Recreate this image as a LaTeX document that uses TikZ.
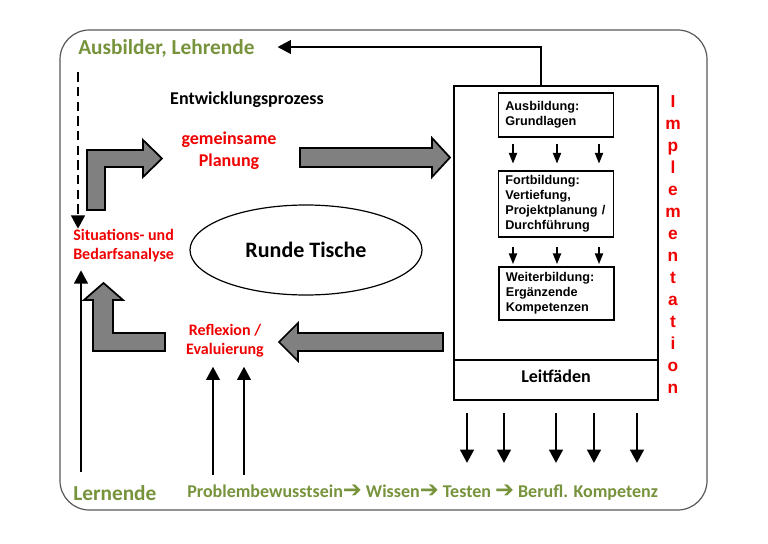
\documentclass[tikz,border=0pt]{standalone}
\usepackage{fontspec}
\setmainfont{Carlito}
\newfontfamily\arialfont{Liberation Sans}
\newfontfamily\symbfont{DejaVu Sans}
\usetikzlibrary{arrows.meta, shapes.geometric, positioning}
\definecolor{leafgreen}{RGB}{119,147,60}
\definecolor{signalred}{RGB}{240,0,0}
\definecolor{blockgray}{RGB}{128,128,128}
\newcommand{\stepto}{{\symbfont\fontsize{17}{17}\selectfont ➔}}

\begin{document}
\begin{tikzpicture}[
    x=0.75pt, y=-0.75pt,
    actor/.style={inner sep=0pt, text=leafgreen, font=\bfseries\fontsize{16}{19}\selectfont},
    phase/.style={inner sep=0pt, text=signalred, align=center, font=\bfseries\fontsize{12}{14.3}\selectfont},
    stage/.style={rectangle, draw, line width=1.1pt, text width=76pt, inner xsep=5pt, align=left, font=\arialfont\bfseries\fontsize{9.5}{11.2}\selectfont},
    blockarrow/.style={fill=blockgray, draw=black, line width=1.3pt, line join=miter},
    arrow/.style={-{Triangle[length=10pt,width=10pt]}, line width=2.2pt},
    small/.style={-{Triangle[length=8pt,width=6pt]}, line width=1.4pt}
]
    \useasboundingbox (0,0) rectangle (768,543);
    \fill[white] (0,0) rectangle (768,543);

    % Frame
    \draw[gray!70!black, line width=0.9pt, rounded corners=22pt] (60,30) rectangle (707,510);

    % Actors
    \node[actor, anchor=west] (ausb) at (78,48) {Ausbilder, Lehrende};
    \node[actor, anchor=west] (lern) at (73,493) {Lernende};

    % Cycle
    \node[inner sep=0pt, font=\bfseries\fontsize{13.5}{16}\selectfont] (entw) at (247,100) {Entwicklungsprozess};
    \node[phase, font=\bfseries\fontsize{13.5}{16.5}\selectfont] (plan) at (229,151) {gemeinsame\\Planung};
    \node[phase, align=left, anchor=west] (situ) at (73,245.5) {Situations- und\\Bedarfsanalyse};
    \node[phase] (refl) at (225,340.5) {Reflexion /\\Evaluierung};
    \node[ellipse, draw, line width=0.9pt, minimum width=174pt, minimum height=67.5pt,
          font=\bfseries\fontsize{16.5}{19}\selectfont] (runde) at (306,250) {Runde Tische};

    % Block arrows
    \draw[blockarrow] (87,210) -- (87,150) -- (143,150) -- (143,140) -- (162,158.5) -- (143,177) -- (143,167) -- (105,167) -- (105,210) -- cycle;
    \draw[blockarrow] (300,148) -- (432,148) -- (432,138) -- (450,157.5) -- (432,177) -- (432,167) -- (300,167) -- cycle;
    \draw[blockarrow] (443,333) -- (298,333) -- (298,323) -- (279,342) -- (298,361) -- (298,351) -- (443,351) -- cycle;
    \draw[blockarrow] (165,333) -- (113,333) -- (113,300) -- (123,300) -- (103.5,283) -- (84,300) -- (93,300) -- (93,351) -- (165,351) -- cycle;

    % Implementation box
    \node[rectangle, draw, line width=1.6pt, minimum width=153pt, minimum height=235.5pt] (frame) at (556,243) {};
    \node[rectangle, draw, line width=1.6pt, minimum width=153pt, minimum height=30pt, text depth=6pt,
          font=\bfseries\fontsize{13.5}{16}\selectfont] (leit) at (556,380) {Leitfäden};
    \node[stage, minimum height=33pt] (ausbil) at (556,115) {Ausbildung:\\Grundlagen};
    \node[stage, minimum height=49.5pt] (fortbil) at (556,204) {Fortbildung:\\Vertiefung,\\Projektplanung /\\Durchführung};
    \node[stage, minimum height=40pt] (weiterbil) at (556.5,293.5) {Weiterbildung:\\Ergänzende\\Kompetenzen};

    \foreach \px in {513,557,599} {
        \draw[small, shorten <=4.5pt, shorten >=5pt] (ausbil.south -| \px,0) -- (fortbil.north -| \px,0);
        \draw[small, shorten <=7pt, shorten >=1.5pt] (fortbil.south -| \px,0) -- (weiterbil.north -| \px,0);
    }
    \foreach \px in {467,504,556,594,637}
        \draw[arrow] (frame.south -| \px,0) ++(0,12) -- ++(0,50);

    \node[inner sep=0pt, text=signalred, align=center, font=\arialfont\bfseries\fontsize{13}{16.5}\selectfont] (impl) at (673,245)
        {I\\m\\p\\l\\e\\m\\e\\n\\t\\a\\t\\i\\o\\n};

    % Return to trainers
    \coordinate (rettop) at (541,47);
    \draw[arrow, line width=2pt, shorten >=17pt] (frame.north -| rettop) -- (rettop) -- (rettop -| ausb.east);
    \draw[arrow, dash pattern=on 7pt off 4pt] (ausb.south -| 78,0) ++(0,15) -- (situ.north -| 78,0);

    % Learners
    \draw[arrow, shorten <=10pt, shorten >=6pt] (lern.north -| 81,0) -- (situ.south -| 81,0);
    \foreach \px in {213,244}
        \draw[arrow, shorten <=8pt, shorten >=7pt] (lern.north -| \px,0) -- (refl.south -| \px,0);
    \node[inner sep=0pt, anchor=west, text=leafgreen, font=\bfseries\fontsize{13.5}{16}\selectfont] (steps) at (187,493)
        {Problembewusstsein\stepto\ Wissen\stepto\ Testen \stepto\ Berufl. Kompetenz};
\end{tikzpicture}
\end{document}
